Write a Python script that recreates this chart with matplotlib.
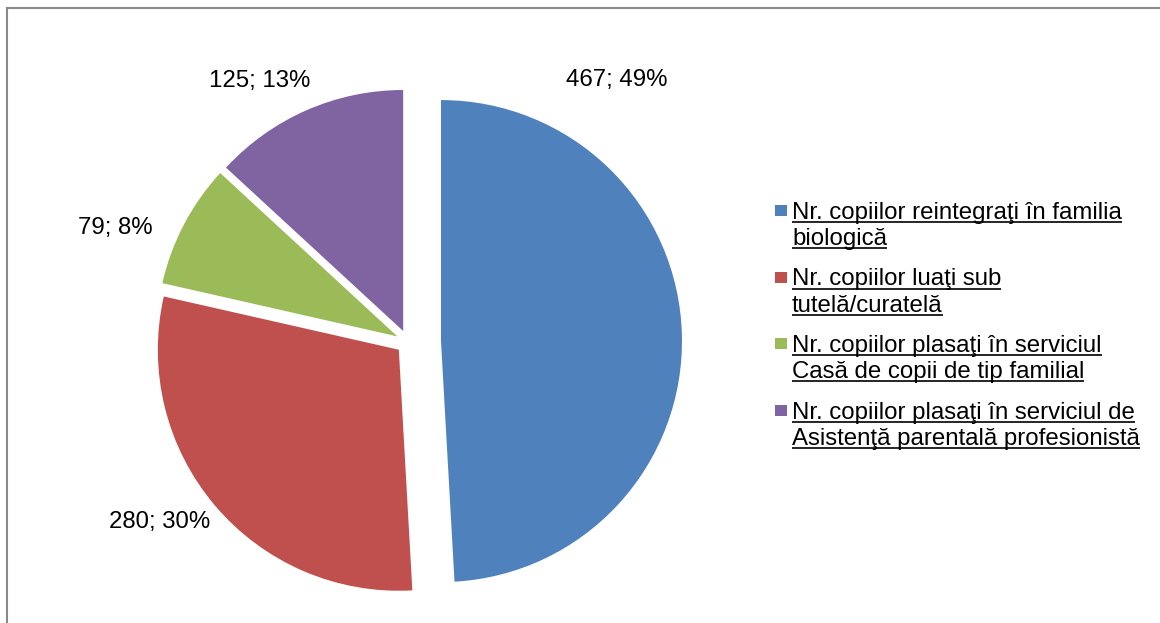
import matplotlib
matplotlib.use("Agg")
import matplotlib.pyplot as plt
from matplotlib.patches import Rectangle

plt.rcParams["font.family"] = ["Liberation Sans", "DejaVu Sans"]

# ── Data ──────────────────────────────────────────────────────────────────────
categories = [
    "Nr. copiilor reintegraţi în familia\nbiologică",
    "Nr. copiilor luaţi sub\ntutelă/curatelă",
    "Nr. copiilor plasaţi în serviciul\nCasă de copii de tip familial",
    "Nr. copiilor plasaţi în serviciul de\nAsistenţă parentală profesionistă",
]
values = [467, 280, 79, 125]
percents = [49, 30, 8, 13]
colors = ["#4F81BD", "#C0504D", "#9BBB59", "#8064A2"]

# ── Figure (axes in pixel units, y up) ────────────────────────────────────────
W, H = 1160, 623
FS = 17.3
fig = plt.figure(figsize=(W / 100, H / 100), dpi=100)
ax = fig.add_axes([0, 0, 1, 1])

# outer chart frame (right/bottom fall outside the picture)
fig.patches.append(Rectangle((7 / W, -0.1), 1.2, (H - 8) / H + 0.1,
                             transform=fig.transFigure, fill=False,
                             edgecolor="#898989", linewidth=1.5))

R = 241
# explode is in data units (= pixels here)
ax.pie(values, colors=colors, startangle=90, counterclock=False,
       center=(408, H - 342), radius=R,
       explode=[33, 12, 12, 12],
       wedgeprops=dict(linewidth=0))
ax.set_xlim(0, W)
ax.set_ylim(0, H)
ax.set_aspect("equal")
ax.axis("off")

# data labels
label_pos = [(617, 80), (160, 522), (115, 228), (260, 81)]
for (x, y), v, p in zip(label_pos, values, percents):
    ax.text(x, H - y, f"{v}; {p}%", fontsize=FS, ha="center", va="center")

# ── Legend with underlined text ───────────────────────────────────────────────
fig.canvas.draw()
renderer = fig.canvas.get_renderer()
leg_x, first_base, line_gap, entry_gap = 792, 219, 26, 66.5
for i, (cat, col) in enumerate(zip(categories, colors)):
    base = first_base + i * entry_gap
    ax.add_patch(Rectangle((775, H - base + 3), 12, 11, color=col, linewidth=0))
    for j, line in enumerate(cat.split("\n")):
        yb = H - (base + j * line_gap)
        t = ax.text(leg_x, yb, line, fontsize=FS, ha="left", va="baseline")
        bb = t.get_window_extent(renderer)
        ax.plot([bb.x0, bb.x1], [yb - 3, yb - 3], color="black", linewidth=1.2,
                solid_capstyle="butt")

fig.savefig("out.png", dpi=100)
